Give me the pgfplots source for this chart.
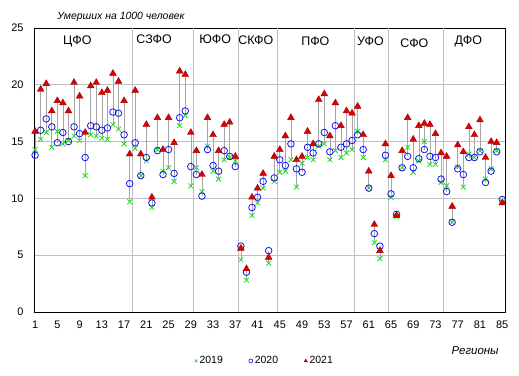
\documentclass[border=0pt]{standalone}
\usepackage{fontspec}
\setmainfont{Liberation Sans}
\usepackage{pgfplots}
\usepackage{pgfplotstable}
\pgfplotsset{compat=1.18}
\definecolor{cgreen}{RGB}{30,220,30}
\definecolor{cblue}{RGB}{20,20,240}
\definecolor{cred}{RGB}{225,0,0}
\definecolor{cdred}{RGB}{150,0,0}
\definecolor{cgrid}{RGB}{192,192,192}
\definecolor{cdrop}{RGB}{165,165,165}

\pgfplotstableread{
i a b c
1 14.3 13.8 15.9
2 15.2 16.0 19.6
3 15.8 17.0 20.1
4 14.5 16.3 17.7
5 15.9 14.9 18.6
6 14.8 15.8 18.4
7 15.1 15.0 17.7
8 15.5 16.3 20.2
9 15.1 15.7 19.0
10 12.0 13.6 15.8
11 15.6 16.4 19.9
12 15.5 16.3 20.2
13 15.3 16.0 19.3
14 15.2 16.2 19.5
15 16.5 17.6 21.0
16 16.1 17.5 20.3
17 14.8 15.6 18.6
18 9.7 11.3 13.9
19 14.4 14.9 19.5
20 12.0 12.0 13.9
21 13.3 13.6 16.5
22 9.2 9.6 10.1
23 14.3 14.2 17.1
24 12.4 12.1 14.3
25 12.7 14.3 17.1
26 11.5 12.2 14.9
27 16.4 17.1 21.2
28 17.3 17.7 20.9
29 11.1 12.8 15.8
30 12.7 12.1 14.2
31 10.6 10.2 12.1
32 14.6 14.3 17.1
33 12.4 12.9 15.6
34 11.7 12.4 14.2
35 13.4 14.2 16.5
36 13.6 13.7 16.7
37 13.3 12.8 13.7
38 4.6 5.8 5.6
39 2.8 3.5 3.8
40 8.5 9.2 10.1
41 9.6 10.1 10.9
42 10.9 11.5 12.2
43 4.3 5.4 4.8
44 11.5 11.8 13.7
45 12.3 13.4 14.3
46 12.4 12.9 15.5
47 13.4 14.8 17.1
48 11.0 12.6 13.4
49 13.1 12.3 13.7
50 13.6 14.5 15.9
51 13.4 14.0 14.8
52 14.6 14.8 18.7
53 14.8 15.8 19.2
54 13.4 14.1 15.5
55 14.2 16.4 18.4
56 13.6 14.5 16.4
57 14.0 14.8 17.7
58 14.3 15.1 17.5
59 15.9 15.6 18.1
60 13.6 14.3 15.6
61 10.9 10.9 12.4
62 6.1 6.9 7.7
63 4.7 5.8 5.4
64 13.4 13.8 14.8
65 10.1 10.4 12.0
66 8.4 8.6 8.5
67 12.7 12.7 14.2
68 14.5 13.7 17.1
69 12.3 12.7 15.2
70 13.3 13.5 16.4
71 15.0 14.3 16.6
72 13.0 13.7 16.5
73 13.0 13.6 15.7
74 11.4 11.7 14.0
75 11.1 10.6 13.7
76 7.9 7.9 9.3
77 12.8 12.6 14.7
78 11.0 12.1 14.1
79 13.9 13.6 16.3
80 13.6 13.6 15.6
81 14.2 14.1 16.9
82 11.7 11.4 13.6
83 12.6 12.4 15.0
84 14.2 14.1 14.9
85 9.7 9.9 9.6
}\data

\begin{document}
\begin{tikzpicture}
\useasboundingbox (-34bp,-64bp) rectangle (485bp,312bp);
\begin{axis}[
  at={(0,0)}, anchor=south west,
  scale only axis, width=471bp, height=284bp,
  xmin=0.8, xmax=85.5, ymin=0, ymax=25,
  xtick={1,5,...,85}, ytick={0,5,...,25},
  ymajorgrids,
  grid style={cgrid, line width=0.8bp},
  extra x ticks={18.5,29.5,37.5,44.5,58.5,64.5,74.5},
  extra x tick labels={},
  extra x tick style={grid=major},
  major tick length=0pt,
  axis line style={black, line width=0.9bp},
  tick label style={font=\fontsize{11}{13}\selectfont},
  /pgf/number format/assume math mode=true,
  yticklabel style={xshift=-7bp},
  xticklabel style={yshift=-5bp},
  clip=false,
  legend columns=3,
  legend style={at={(0.49,-0.1725)}, anchor=center, draw=none, fill=none,
    font=\fontsize{10.5}{12}\selectfont,
    /tikz/every odd column/.append style={column sep=0bp},
    /tikz/every even column/.append style={column sep=24bp}},
  legend image code/.code={\draw[#1, mark size=2bp, line width=0.6bp] plot coordinates {(0.05cm,0cm)};},
]
\addplot[draw=none, mark=none, forget plot,
  error bars/.cd, y dir=both, y explicit, error mark=none,
  error bar style={draw=cdrop, line width=0.6bp}]
  table[x=i,
    y expr={(min(\thisrow{a},\thisrow{b},\thisrow{c})+max(\thisrow{a},\thisrow{b},\thisrow{c}))/2},
    y error expr={(max(\thisrow{a},\thisrow{b},\thisrow{c})-min(\thisrow{a},\thisrow{b},\thisrow{c}))/2}]
  {\data};
\addplot[only marks, mark=x, mark size=3.4bp, cgreen, line width=0.8bp] table[x=i,y=a]{\data};
\addlegendentry{2019}
\addplot[only marks, mark=o, mark size=3.3bp, cblue, line width=0.8bp] table[x=i,y=b]{\data};
\addlegendentry{2020}
\addplot[only marks, mark=triangle*, mark size=3.9bp, cred, mark options={fill=cred, draw=cdred, line width=0.4bp}] table[x=i,y=c]{\data};
\addlegendentry{2021}
\begin{scope}[every node/.style={font=\fontsize{12.5}{14}\selectfont}]
\node at (axis cs:8.6,23.8) {ЦФО};
\node at (axis cs:22.4,24.0) {СЗФО};
\node at (axis cs:33.4,24.0) {ЮФО};
\node at (axis cs:40.7,23.9) {СКФО};
\node at (axis cs:51.4,23.85) {ПФО};
\node at (axis cs:61.3,23.8) {УФО};
\node at (axis cs:69.2,23.7) {СФО};
\node at (axis cs:78.9,23.85) {ДФО};
\end{scope}
\node[anchor=west, font=\itshape\fontsize{10.5}{12}\selectfont, inner sep=0pt] at (axis description cs:0.049,1.04) {Умерших на 1000 человек};
\node[anchor=east, font=\itshape\fontsize{11.5}{13}\selectfont, inner sep=0pt] at (axis description cs:0.987,-0.136) {Регионы};
\end{axis}
\end{tikzpicture}
\end{document}
